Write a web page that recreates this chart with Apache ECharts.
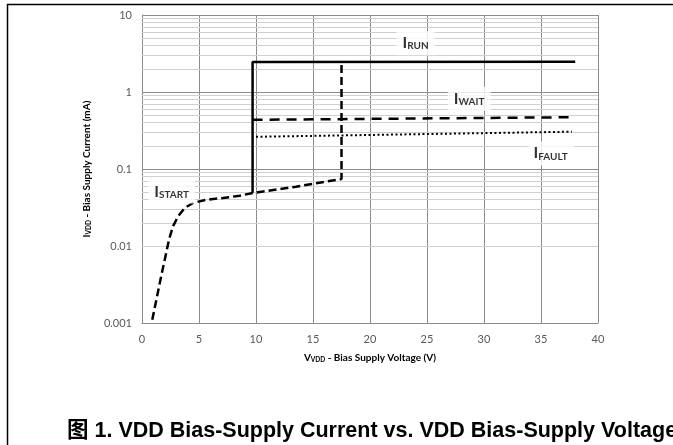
<!DOCTYPE html>
<html>
<head>
<meta charset="utf-8">
<script src="https://cdn.jsdelivr.net/npm/echarts@6/dist/echarts.min.js"></script>
<style>html,body{margin:0;padding:0;background:#fff}#c{width:673px;height:445px}</style>
</head>
<body>
<div id="c"></div>
<script>
// ---- data ----
var xTicks = [0, 5, 10, 15, 20, 25, 30, 35, 40];
var yTickLabels = ['0.001', '0.01', '0.1', '1', '10'];
var runV = [9.7, 9.7, 38];
var runI = [0.049, 2.45, 2.48];
var waitV = [9.7, 37.6];
var waitI = [0.435, 0.47];
var faultV = [10.0, 37.7];
var faultI = [0.262, 0.305];
var startV = [0.9, 1.26, 1.61, 1.99, 2.37, 2.72, 3.16, 3.75, 4.47, 5.65, 7.1, 8.57, 9.74, 13.5, 17.5, 17.5];
var startI = [0.0011, 0.002, 0.0036, 0.0066, 0.0121, 0.018, 0.0242, 0.0312, 0.0362, 0.0399, 0.042, 0.045, 0.0488, 0.059, 0.074, 2.45];
var labelNames = ['RUN', 'WAIT', 'FAULT', 'START'];
var labelV = [24.0, 28.7, 35.85, 2.6];
var labelI = [4.3, 0.82, 0.16, 0.051];
var decades = [0.001, 0.01, 0.1, 1];
var minorMult = [2, 3, 4, 5, 6, 7, 8, 9];

function pairs(xs, ys) { return xs.map(function (x, i) { return [x, ys[i]]; }); }
var minorLines = [];
decades.forEach(function (d) { minorMult.forEach(function (m) { minorLines.push({ yAxis: +(d * m).toPrecision(3) }); }); });

var chart = echarts.init(document.getElementById('c'), null, { renderer: 'canvas' });
var FF = 'Lato, "Open Sans", sans-serif';
var gridGrey = '#8c8c8c';

chart.setOption({
  animation: false,
  backgroundColor: '#fff',
  title: {
    text: '图 1. VDD Bias-Supply Current vs. VDD Bias-Supply Voltage',
    left: 62, top: 415,
    textStyle: { fontFamily: 'Arial, "Liberation Sans", "Noto Sans CJK SC", sans-serif', fontSize: 21.5, fontWeight: 'bold', color: '#000' }
  },
  graphic: [
    { type: 'line', shape: { x1: 7, y1: 4.5, x2: 673, y2: 4.5 }, style: { stroke: '#000', lineWidth: 1.5 } },
    { type: 'line', shape: { x1: 7.5, y1: 4, x2: 7.5, y2: 445 }, style: { stroke: '#000', lineWidth: 1.5 } }
  ],
  grid: { left: 142, right: 75, top: 15, bottom: 122, containLabel: false },
  xAxis: {
    type: 'value', min: 0, max: 40, interval: 5,
    axisLine: { show: true, lineStyle: { color: gridGrey, width: 1 } },
    axisTick: { show: false },
    splitLine: { show: true, lineStyle: { color: gridGrey, width: 1 } },
    axisLabel: { color: '#595959', fontSize: 11, fontFamily: FF, margin: 11,
      formatter: function (v) { return xTicks.indexOf(v) >= 0 ? String(v) : ''; } },
    name: '{b|V}{s|VDD}{b| - Bias Supply Voltage (V)}',
    nameLocation: 'middle', nameGap: 28,
    nameTextStyle: { rich: {
      b: { fontFamily: FF, fontSize: 10, fontWeight: 'bold', color: '#000', verticalAlign: 'bottom', lineHeight: 12 },
      s: { fontFamily: FF, fontSize: 6.5, fontWeight: 'bold', color: '#000', verticalAlign: 'bottom', lineHeight: 10 } } }
  },
  yAxis: {
    type: 'log', logBase: 10, min: 0.001, max: 10,
    axisLine: { show: true, lineStyle: { color: gridGrey, width: 1 } },
    axisTick: { show: false },
    splitLine: { show: true, lineStyle: { color: gridGrey, width: 1 } },
    axisLabel: { color: '#595959', fontSize: 11, fontFamily: FF, margin: 10,
      formatter: function (v) {
        var k = Math.round(Math.log10(v)) + 3;
        return yTickLabels[k] !== undefined ? yTickLabels[k] : '';
      } },
    name: '{b|I}{s|VDD}{b| - Bias Supply Current (mA)}',
    nameLocation: 'middle', nameGap: 50, nameRotate: 90,
    nameTextStyle: { rich: {
      b: { fontFamily: FF, fontSize: 10, fontWeight: 'bold', color: '#000', verticalAlign: 'bottom', lineHeight: 12 },
      s: { fontFamily: FF, fontSize: 6.5, fontWeight: 'bold', color: '#000', verticalAlign: 'bottom', lineHeight: 10 } } }
  },
  series: [
    {
      type: 'line', data: [], z: 1, silent: true,
      markLine: { silent: true, symbol: ['none', 'none'], label: { show: false },
        lineStyle: { color: '#d0d0d0', type: 'solid', width: 1 }, data: minorLines }
    },
    { name: 'IRUN', type: 'line', data: pairs(runV, runI), showSymbol: false, symbol: 'none',
      lineStyle: { color: '#000', width: 2.5, type: 'solid' }, z: 5 },
    { name: 'IWAIT', type: 'line', data: pairs(waitV, waitI), showSymbol: false, symbol: 'none',
      lineStyle: { color: '#000', width: 2.5, type: [10, 7] }, z: 5 },
    { name: 'IFAULT', type: 'line', data: pairs(faultV, faultI), showSymbol: false, symbol: 'none',
      lineStyle: { color: '#000', width: 2, type: [2, 2.5] }, z: 5 },
    { name: 'ISTART', type: 'line', data: pairs(startV, startI), showSymbol: false, symbol: 'none',
      lineStyle: { color: '#000', width: 2.5, type: [8, 4] }, z: 5 },
    {
      type: 'scatter', symbolSize: 0, z: 6, silent: true,
      data: labelV.map(function (v, i) { return { value: [v, labelI[i]], name: labelNames[i] }; }),
      label: {
        show: true, position: 'inside',
        backgroundColor: '#fff', padding: [4, 6, 4, 6],
        formatter: function (p) { return '{i|I}{s|' + p.name + '}'; },
        rich: {
          i: { fontFamily: FF, fontSize: 16, fontWeight: 'bold', color: '#000', verticalAlign: 'bottom', lineHeight: 16 },
          s: { fontFamily: FF, fontSize: 10, fontWeight: 'bold', color: '#000', verticalAlign: 'bottom', lineHeight: 12 }
        }
      }
    }
  ]
});
</script>
</body>
</html>
